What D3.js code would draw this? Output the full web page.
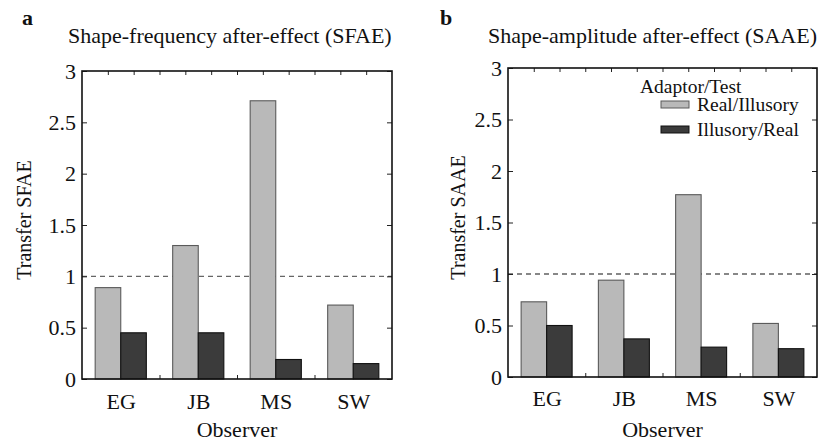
<!DOCTYPE html>
<html>
<head>
<meta charset="utf-8">
<script src="https://cdn.jsdelivr.net/npm/d3@7"></script>
<style>
  html, body { margin: 0; padding: 0; background: #fff; }
  svg { display: block; }
  text { font-family: "Liberation Serif", "Times New Roman", serif; fill: #111; }
</style>
</head>
<body>
<svg id="chart" width="829" height="443"></svg>
<script>
// Observers and transfer ratios for each adaptor/test condition
const observers = ["EG", "JB", "MS", "SW"];
const seriesNames = ["Real/Illusory", "Illusory/Real"];
const legendTitle = "Adaptor/Test";

const sfaeRealIllusory = [0.89, 1.30, 2.71, 0.72];
const sfaeIllusoryReal = [0.45, 0.45, 0.19, 0.15];

const saaeRealIllusory = [0.73, 0.94, 1.77, 0.52];
const saaeIllusoryReal = [0.50, 0.37, 0.29, 0.275];

const yTicks = [0, 0.5, 1, 1.5, 2, 2.5, 3];
const yTickLabels = ["0", "0.5", "1", "1.5", "2", "2.5", "3"];
const referenceLevel = 1;

const svg = d3.select("#chart");

const fills = ["#b9b9b9", "#3b3b3b"];
const strokes = ["#5a5a5a", "#111"];
const serif = '"Liberation Serif", "Times New Roman", serif';

function drawPanel(cfg) {
  const { left, right, top, bottom } = cfg;
  const g = svg.append("g");

  const x = d3.scaleLinear().domain([0.5, 4.5]).range([left, right]);
  const y = d3.scaleLinear().domain([0, 3]).range([bottom, top]);

  // minor x ticks every third of a category step
  const minorTicks = d3.range(1, 12).map(k => 0.5 + k / 3);

  // bottom minor ticks (drawn under the bars)
  g.append("g")
    .attr("transform", `translate(0,${bottom})`)
    .call(d3.axisBottom(x).tickValues(minorTicks).tickSize(-4).tickFormat(""))
    .call(a => a.select(".domain").remove())
    .call(a => a.selectAll("line").attr("stroke", "#222").attr("stroke-width", 1));

  // dashed reference line at 1
  g.append("line")
    .attr("x1", left).attr("x2", right)
    .attr("y1", y(referenceLevel)).attr("y2", y(referenceLevel))
    .attr("stroke", cfg.dashColor)
    .attr("stroke-width", 1.2)
    .attr("stroke-dasharray", "5,4");

  // bars
  const barW = 0.33;
  const series = [cfg.a, cfg.b];
  series.forEach((vals, si) => {
    g.selectAll(null)
      .data(vals)
      .enter()
      .append("rect")
      .attr("x", (d, i) => x(i + 1 + (si === 0 ? -barW : 0)))
      .attr("width", x(0.5 + barW) - x(0.5))
      .attr("y", d => y(d))
      .attr("height", d => y(0) - y(d))
      .attr("fill", fills[si])
      .attr("stroke", strokes[si])
      .attr("stroke-width", 1.1);
  });

  // top minor ticks
  g.append("g")
    .attr("transform", `translate(0,${top})`)
    .call(d3.axisTop(x).tickValues(minorTicks).tickSize(-4).tickFormat(""))
    .call(a => a.select(".domain").remove())
    .call(a => a.selectAll("line").attr("stroke", "#222").attr("stroke-width", 1));

  // left axis
  g.append("g")
    .attr("transform", `translate(${left},0)`)
    .call(d3.axisLeft(y).tickValues(yTicks).tickSize(-5).tickPadding(6)
      .tickFormat((d, i) => yTickLabels[i]))
    .call(a => a.select(".domain").remove())
    .call(a => a.selectAll("line").attr("stroke", "#222"))
    .call(a => a.selectAll("text")
      .attr("font-family", serif)
      .attr("font-size", 22).attr("fill", "#111"));

  // right axis ticks
  g.append("g")
    .attr("transform", `translate(${right},0)`)
    .call(d3.axisRight(y).tickValues(yTicks).tickSize(-5).tickFormat(""))
    .call(a => a.select(".domain").remove())
    .call(a => a.selectAll("line").attr("stroke", "#222"));

  // category labels
  g.append("g")
    .attr("transform", `translate(0,${bottom})`)
    .call(d3.axisBottom(x).tickValues([1, 2, 3, 4]).tickSize(0).tickPadding(cfg.catPad)
      .tickFormat((d, i) => observers[i]))
    .call(a => a.select(".domain").remove())
    .call(a => a.selectAll("text")
      .attr("font-family", serif)
      .attr("font-size", 22).attr("fill", "#111"));

  // frame
  g.append("rect")
    .attr("x", left).attr("y", top)
    .attr("width", right - left).attr("height", bottom - top)
    .attr("fill", "none")
    .attr("stroke", "#111")
    .attr("stroke-width", 1.6);

  // axis titles
  g.append("text")
    .attr("x", (left + right) / 2).attr("y", cfg.xTitleY)
    .attr("text-anchor", "middle")
    .attr("font-size", 22)
    .text("Observer");

  g.append("text")
    .attr("transform", `translate(${cfg.yTitleX},${(top + bottom) / 2 - 5}) rotate(-90)`)
    .attr("text-anchor", "middle")
    .attr("font-size", 20)
    .text(cfg.yTitle);

  // panel title and letter
  g.append("text")
    .attr("x", cfg.titleX).attr("y", 43)
    .attr("font-size", 22)
    .text(cfg.title);

  g.append("text")
    .attr("x", cfg.letterX).attr("y", 25)
    .attr("font-size", 22)
    .attr("font-weight", "bold")
    .text(cfg.letter);

  return { x, y, g };
}

drawPanel({
  left: 82, right: 392, top: 71, bottom: 379,
  a: sfaeRealIllusory, b: sfaeIllusoryReal,
  dashColor: "#666", catPad: 14, xTitleY: 437, yTitleX: 31,
  yTitle: "Transfer SFAE",
  title: "Shape-frequency after-effect (SFAE)", titleX: 68,
  letter: "a", letterX: 22
});

drawPanel({
  left: 508, right: 817, top: 68, bottom: 377,
  a: saaeRealIllusory, b: saaeIllusoryReal,
  dashColor: "#111", catPad: 13, xTitleY: 437, yTitleX: 465,
  yTitle: "Transfer SAAE",
  title: "Shape-amplitude after-effect (SAAE)", titleX: 488,
  letter: "b", letterX: 440
});

// legend for panel b
const legend = svg.append("g");
legend.append("text")
  .attr("x", 640).attr("y", 93)
  .attr("font-size", 19.5)
  .text(legendTitle);

seriesNames.forEach((name, i) => {
  const yy = 101 + i * 25;
  legend.append("rect")
    .attr("x", 661).attr("y", yy)
    .attr("width", 28).attr("height", 7)
    .attr("fill", fills[i])
    .attr("stroke", strokes[i])
    .attr("stroke-width", 1);
  legend.append("text")
    .attr("x", 697).attr("y", yy + 9.5)
    .attr("font-size", 19.5)
    .text(name);
});
</script>
</body>
</html>
